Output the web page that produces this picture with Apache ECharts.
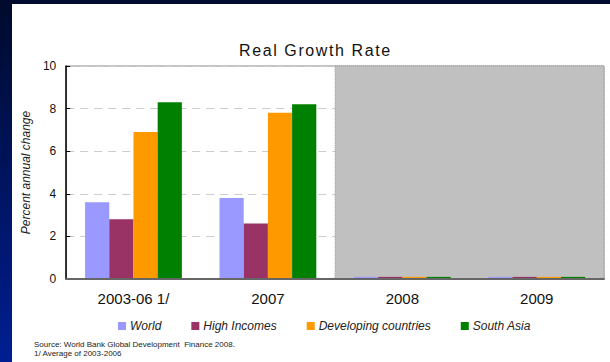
<!DOCTYPE html>
<html>
<head>
<meta charset="utf-8">
<script src="https://cdn.jsdelivr.net/npm/echarts@6/dist/echarts.min.js"></script>
<style>
  html, body { margin: 0; padding: 0; }
  body {
    width: 610px; height: 362px; overflow: hidden; position: relative;
    background: linear-gradient(to bottom, #000a2c 0%, #00135a 45%, #001e92 100%);
  }
  #chart {
    position: absolute; left: 12px; top: 4px; width: 598px; height: 358px;
    background: #ffffff;
  }
  /* wider tracking for the heading */
  #chart text[fill="#121212"] { letter-spacing: 1.6px; }
</style>
</head>
<body>
<div id="chart"></div>
<script>
// Real GDP growth, percent annual change
const categories = ['2003-06 1/', '2007', '2008', '2009'];
const world          = [3.6, 3.8, 0.1, 0.1];
const highIncomes    = [2.8, 2.6, 0.1, 0.1];
const developing     = [6.9, 7.8, 0.1, 0.1];
const southAsia      = [8.3, 8.2, 0.1, 0.1];
const seriesNames = ['World', 'High Incomes', 'Developing countries', 'South Asia'];
const seriesColors = ['#9999ff', '#993366', '#ff9900', '#008000'];
const yTicks = { min: 0, max: 10, interval: 2 };
// shaded forecast span, in category units along the hidden value axis
const forecastSpan = [2, 4];

const chart = echarts.init(document.getElementById('chart'), null, { renderer: 'svg' });

const barSeries = [world, highIncomes, developing, southAsia].map((vals, i) => ({
  name: seriesNames[i],
  type: 'bar',
  data: vals,
  barGap: '0%',
  barCategoryGap: '28%',
  itemStyle: { color: seriesColors[i] },
  z: 2
}));

chart.setOption({
  animation: false,
  title: [
    {
      text: 'Real Growth Rate',
      left: 222,
      top: 33,
      textStyle: { fontFamily: 'Liberation Sans, Arial, sans-serif', fontSize: 16, fontWeight: 'normal', color: '#121212' }
    },
    {
      text: 'Source: World Bank Global Development  Finance 2008.\n1/ Average of 2003-2006',
      left: 22,
      top: 336,
      padding: 0,
      textStyle: { fontFamily: 'Liberation Sans, Arial, sans-serif', fontSize: 8, fontWeight: 'normal', color: '#222', lineHeight: 9 }
    }
  ],
  legend: {
    data: seriesNames,
    left: 101,
    top: 311,
    icon: 'rect',
    itemWidth: 8,
    itemHeight: 8,
    itemGap: 30,
    textStyle: { fontFamily: 'Liberation Sans, Arial, sans-serif', fontSize: 12, fontStyle: 'italic', color: '#222', padding: [0, 0, 0, -1] }
  },
  grid: {
    left: 50, right: 6, top: 62, bottom: 83,
    show: true, borderColor: '#888', borderWidth: 1, backgroundColor: '#fff'
  },
  xAxis: [
    {
      type: 'category',
      data: categories,
      axisLine: { lineStyle: { color: '#666', width: 2 } },
      axisTick: { inside: true, length: 5, lineStyle: { color: '#000' } },
      axisLabel: { fontFamily: 'Liberation Sans, Arial, sans-serif', fontSize: 15, color: '#111', margin: 12 },
      z: 3
    },
    {
      type: 'value',
      min: 0, max: 4,
      show: false
    }
  ],
  yAxis: {
    type: 'value',
    min: yTicks.min, max: yTicks.max, interval: yTicks.interval,
    name: 'Percent annual change',
    nameLocation: 'middle',
    nameGap: 25,
    nameRotate: 90,
    nameTextStyle: { fontFamily: 'Liberation Sans, Arial, sans-serif', fontSize: 12, fontStyle: 'italic', color: '#222' },
    axisLine: { show: true, lineStyle: { color: '#000', width: 1.5 } },
    axisTick: { show: true, inside: true, length: 4, lineStyle: { color: '#000' } },
    axisLabel: { fontFamily: 'Liberation Sans, Arial, sans-serif', fontSize: 12, color: '#111', margin: 10 },
    splitLine: { lineStyle: { color: '#cccccc', type: [8, 6] } }
  },
  series: [
    {
      name: 'forecast',
      type: 'line',
      xAxisIndex: 1,
      data: [],
      silent: true,
      markArea: {
        silent: true,
        itemStyle: { color: '#c0c0c0', borderColor: '#9a9a9a', borderWidth: 1, borderType: 'dotted' },
        data: [[{ xAxis: forecastSpan[0], yAxis: yTicks.max }, { xAxis: forecastSpan[1], yAxis: yTicks.min }]]
      },
      z: 1
    }
  ].concat(barSeries)
});
</script>
</body>
</html>
